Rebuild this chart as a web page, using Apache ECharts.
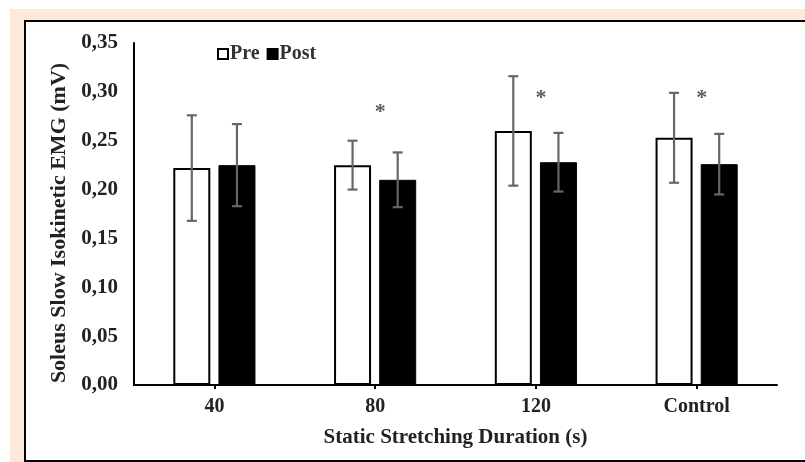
<!DOCTYPE html>
<html><head><meta charset="utf-8">
<script src="https://cdn.jsdelivr.net/npm/echarts@6/dist/echarts.min.js"></script>
<style>html,body{margin:0;padding:0;background:#fff}#c{width:805px;height:462px}</style>
</head><body><div id="c"></div>
<script>
const categories = ['40', '80', '120', 'Control'];
const preMean = [0.222, 0.225, 0.260, 0.253];
const preSD = [0.054, 0.025, 0.056, 0.046];
const postMean = [0.225, 0.210, 0.228, 0.226];
const postSD = [0.042, 0.028, 0.030, 0.031];
const starLevel = [null, 0.281, 0.295, 0.295];

const FONT = 'Liberation Serif';
const TXT = '#222';
const BAR_W = 37;
const HALF = (BAR_W + BAR_W * 0.22) / 2;

function errSeries(means, sds, off) {
  return {
    type: 'custom',
    z: 5,
    silent: true,
    data: means.map((m, i) => [i, m - sds[i], m + sds[i]]),
    renderItem: function (params, api) {
      const x = api.coord([api.value(0), 0])[0] + off;
      const lo = api.coord([api.value(0), api.value(1)])[1];
      const hi = api.coord([api.value(0), api.value(2)])[1];
      const st = { stroke: '#666', lineWidth: 2.2 };
      return {
        type: 'group',
        children: [
          { type: 'line', shape: { x1: x, y1: lo, x2: x, y2: hi }, style: st },
          { type: 'line', shape: { x1: x - 5, y1: lo, x2: x + 5, y2: lo }, style: st },
          { type: 'line', shape: { x1: x - 5, y1: hi, x2: x + 5, y2: hi }, style: st }
        ]
      };
    }
  };
}

const chart = echarts.init(document.getElementById('c'));
chart.setOption({
  animation: false,
  backgroundColor: '#fff',
  graphic: [
    { type: 'rect', z: -10, shape: { x: 10, y: 9, width: 795, height: 453 }, style: { fill: '#FCE9DC' } },
    { type: 'rect', z: -9, shape: { x: 25, y: 21, width: 790, height: 440 }, style: { fill: '#fff', stroke: '#000', lineWidth: 2 } }
  ],
  grid: { left: 134, right: 28, top: 43, bottom: 77 },
  legend: {
    left: 212, top: 39,
    itemWidth: 10, itemHeight: 10, itemGap: 7,
    icon: 'rect',
    textStyle: { fontFamily: FONT, fontWeight: 'bold', fontSize: 20, color: '#333', padding: [0, 0, 0, -3] },
    data: ['Pre', 'Post']
  },
  xAxis: {
    type: 'category',
    data: categories,
    name: 'Static Stretching Duration (s)',
    nameLocation: 'middle',
    nameGap: 42,
    nameTextStyle: { fontFamily: FONT, fontWeight: 'bold', fontSize: 21, color: TXT },
    axisLine: { lineStyle: { color: '#000', width: 2 } },
    axisTick: { show: true, alignWithLabel: true, length: 4, lineStyle: { color: '#000', width: 2 } },
    axisLabel: { margin: 12, fontFamily: FONT, fontWeight: 'bold', fontSize: 20, color: TXT }
  },
  yAxis: {
    type: 'value',
    min: 0, max: 0.35, interval: 0.05,
    name: 'Soleus Slow Isokinetic EMG (mV)',
    nameLocation: 'middle',
    nameGap: 62,
    nameTextStyle: { fontFamily: FONT, fontWeight: 'bold', fontSize: 22, color: TXT, padding: [0, 18, 0, 0] },
    axisLine: { show: true, lineStyle: { color: '#000', width: 2 } },
    axisTick: { show: false },
    splitLine: { show: false },
    axisLabel: {
      margin: 16, fontFamily: FONT, fontWeight: 'bold', fontSize: 21, color: TXT,
      formatter: v => v.toFixed(2).replace('.', ',')
    }
  },
  series: [
    {
      name: 'Pre', type: 'bar', data: preMean, barWidth: BAR_W, barGap: '22%',
      itemStyle: { color: '#fff', borderColor: '#000', borderWidth: 2 }
    },
    {
      name: 'Post', type: 'bar', data: postMean, barWidth: BAR_W,
      itemStyle: { color: '#000', borderColor: '#000', borderWidth: 1 }
    },
    errSeries(preMean, preSD, -HALF),
    errSeries(postMean, postSD, HALF),
    {
      type: 'scatter', symbolSize: 1, z: 6, silent: true,
      itemStyle: { color: 'rgba(0,0,0,0)' },
      data: starLevel.map((v, i) => v == null ? null : [i, v]),
      label: {
        show: true, position: 'inside', formatter: '*', offset: [5, 2],
        fontFamily: FONT, fontWeight: 'bold', fontSize: 22, color: '#333'
      }
    }
  ]
});
</script></body></html>
